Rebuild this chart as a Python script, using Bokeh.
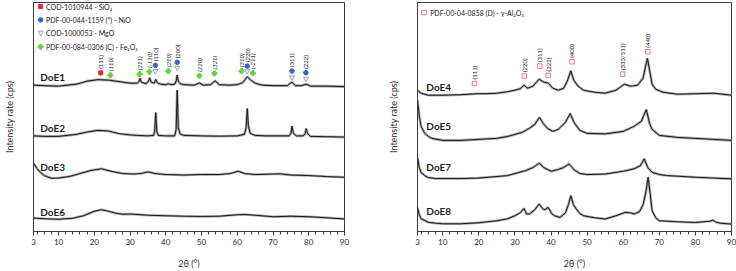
import math
from bokeh.plotting import figure
from bokeh.layouts import row
from bokeh.models import Range1d, FixedTicker
from bokeh.core.properties import value
from bokeh.embed import file_html
from bokeh.resources import INLINE

FONT = "Lato"

# ---------------- data (intensity above each pattern's own baseline, a.u.) ----------------
DOE1_TT = [3, 6, 10, 15, 18, 21, 24, 26, 28, 30, 32, 32.5, 32.8, 33.2, 34.5, 35.1, 35.5, 35.9, 36.8, 37.2, 37.6, 38.5,
           40, 40.8, 41.5, 42.5, 42.9, 43.2, 43.5, 44, 45, 48, 49.4, 50.5, 52.5, 53.8, 55, 58, 60, 61.5, 62.3, 62.8,
           63.8, 65, 67, 70, 74, 75.3, 76.3, 78, 79.3, 80.5, 85, 90]
DOE1_I = [2, 1.5, 1, 3, 6, 7.5, 7, 6, 5, 4, 4, 5.5, 8.7, 5, 3.5, 5.5, 9.3, 5, 4, 7.7, 4.5, 3,
          2.5, 3.5, 2.5, 3, 6, 12, 6, 3.5, 2.5, 2, 4.3, 2, 2.5, 6.3, 2.5, 2, 2.5, 4.5, 8, 10.3,
          7, 4, 2, 1.5, 1.5, 5, 1.5, 1.5, 3, 1, 1, 0.5]

DOE2_TT = [3, 6, 10, 15, 18, 21, 24, 27, 30, 32, 35, 36.6, 36.9, 37.2, 37.5, 37.9, 40, 42.5, 42.9, 43.2, 43.5, 44, 45,
           50, 55, 60, 62, 62.5, 62.8, 63.1, 63.6, 65, 68, 74.5, 75, 75.3, 75.7, 76.5, 78.5, 79, 79.3, 79.7, 80.5, 85, 90]
DOE2_I = [1.5, 1, 1, 3, 5.3, 7, 6.3, 3.7, 2.5, 2, 1.5, 2, 6, 24.7, 6, 2, 1.5, 1.5, 8, 47, 10, 3.5, 2,
          1.5, 1.2, 1.5, 3, 10, 28.7, 12, 4, 2, 1.5, 1.5, 4, 11.3, 4, 1.5, 1.5, 4, 8.7, 3.5, 1, 0.7, 0.3]

DOE3_TT = [3, 4, 5, 6, 8, 10, 13, 16, 19, 22, 25, 28, 31, 33, 35, 37, 40, 45, 50, 55, 58, 60.3, 62, 65, 70, 72, 75, 80, 85, 90]
DOE3_I = [15.3, 10, 6, 3, 0.3, 0.5, 2, 5, 8, 9.7, 7, 5, 4.5, 5, 6.7, 5, 4, 3.5, 4, 4, 5, 7.3, 5, 4, 4.5, 4.7, 3.5, 3, 2, 1.3]

DOE6_TT = [3, 6, 10, 14, 17, 20, 22, 24, 26, 28, 30, 35, 40, 45, 50, 55, 60, 62, 65, 70, 75, 80, 85, 90]
DOE6_I = [1.7, 1, 0.5, 1.5, 4, 8.5, 10, 8.5, 6.5, 5.5, 5.7, 4.5, 4, 3.5, 3.3, 3.5, 5, 5.3, 4.5, 3, 3.5, 3, 2, 0.7]

DOE4_TT = [3, 4, 6, 10, 15, 19.5, 22, 25, 28, 30, 31.5, 32.5, 33.5, 35, 36.7, 38, 39.2, 40.5, 42, 43.5, 44.5, 45.5, 46.3,
           47.5, 49, 52, 55, 58, 60.3, 62, 64, 65.5, 66.2, 66.7, 67.2, 68, 69, 71, 75, 80, 85, 90]
DOE4_I = [6, 3, 1, 1, 1.5, 2.5, 2.5, 3, 4.5, 6, 7.5, 11, 8, 10, 17, 14, 13, 8, 6, 8, 15, 25.3, 16,
          10, 6, 4, 3, 6, 12, 10, 11, 18, 30, 37.7, 28, 12, 7, 4, 2, 2.5, 3, 1]

DOE5_TT = [3, 3.5, 4, 5, 6, 7, 10, 15, 20, 25, 28, 30, 32, 34, 35.5, 36.8, 37.8, 39, 40.5, 42, 44, 45.3, 46.5, 48, 50,
           55, 60, 63, 65, 66.4, 67.3, 68, 70, 75, 80, 85, 90]
DOE5_I = [41, 25, 15, 8, 5, 3, 1, 1, 2, 3, 5, 7, 9, 13, 17, 24, 18, 13, 10, 12, 19, 27.7, 18, 11, 8,
          7.5, 10, 15, 20, 31.7, 18, 12, 6, 4, 3, 2, 1]

DOE7_TT = [3, 3.5, 4, 5, 6, 8, 15, 20, 25, 28, 30, 33, 35, 36.7, 38, 40, 42, 43.5, 45, 46.3, 48, 50, 55, 60, 63, 64.8,
           65.8, 66.8, 68, 70, 72, 80, 85, 90]
DOE7_I = [22, 12, 7, 4, 2, 1, 1, 1.5, 3, 4, 6, 9, 12, 16.3, 12, 8.3, 10, 12, 15.7, 10, 6, 5, 5.5, 8.3, 10.7, 14,
          20.7, 12, 7.3, 5, 4, 2.3, 1.5, 0.7]

DOE8_TT = [3, 3.5, 4, 6, 8, 10, 15, 20, 25, 28, 30, 31.5, 32.5, 33.2, 34, 35.5, 36.7, 37.7, 38.3, 39.2, 40.2, 41, 42.5,
           44, 44.8, 45.5, 46.2, 47, 48, 49, 52, 55, 58, 60.5, 62, 63, 64.5, 65.5, 66.3, 66.9, 67.5, 68, 69, 70, 75,
           80, 84, 84.8, 85.8, 87, 90]
DOE8_I = [17, 10, 6, 2.5, 1.5, 1, 1, 2, 4, 6, 9, 12, 16.3, 11, 10.7, 15, 20.7, 16, 15, 17.3, 11, 9, 7.3,
          12, 20, 29, 20, 15.7, 11, 9, 7, 5.7, 9, 12.3, 12, 10.7, 13, 20, 33, 47.3, 30, 14, 7, 4, 3,
          2.3, 3.5, 4.7, 2.5, 1.5, 0.7]

LEFT_NAMES = ["DoE1", "DoE2", "DoE3", "DoE6"]
RIGHT_NAMES = ["DoE4", "DoE5", "DoE7", "DoE8"]
SERIES = {
    "DoE1": (DOE1_TT, DOE1_I), "DoE2": (DOE2_TT, DOE2_I), "DoE3": (DOE3_TT, DOE3_I), "DoE6": (DOE6_TT, DOE6_I),
    "DoE4": (DOE4_TT, DOE4_I), "DoE5": (DOE5_TT, DOE5_I), "DoE7": (DOE7_TT, DOE7_I), "DoE8": (DOE8_TT, DOE8_I),
}
# vertical stacking offsets of each pattern
OFFSETS = {"DoE1": 143.7, "DoE2": 93.7, "DoE3": 52.7, "DoE6": 11.7,
           "DoE4": 134.7, "DoE5": 89.7, "DoE7": 51.7, "DoE8": 6.7}
# name label heights (a.u.)
NAME_Y = {"DoE1": 153.7, "DoE2": 102.7, "DoE3": 64.7, "DoE6": 19.7,
          "DoE4": 143.4, "DoE5": 104.7, "DoE7": 64.7, "DoE8": 20.7}

# reflection markers (2theta, hkl)
SIO2_TT = [21.8]
SIO2_HKL = ["(111)"]
FE2O3_TT = [24.5, 32.7, 35.4, 40.7, 49.4, 53.6, 61.2, 64.4]
FE2O3_HKL = ["(110)", "(211)", "(-110)", "(210)", "(220)", "(321)", "(310)", "(-211)"]
NIO_TT = [37.1, 43.2, 62.8, 75.3, 79.2]
NIO_HKL = ["(110)", "(200)", "(220)", "(311)", "(222)"]
AL2O3_TT = [18.8, 32.6, 36.9, 39.2, 45.8, 59.8, 66.8]
AL2O3_HKL = ["(111)", "(220)", "(311)", "(222)", "(400)", "(333/511)", "(440)"]

# marker heights (a.u.)
SIO2_MY = [158]
FE2O3_MY = [155.7, 156.7, 159, 159.7, 155, 157.4, 159.7, 157.7]
NIO_MY = [165.4, 168.4, 164.7, 159.7, 158]
MGO_MY = [159.7, 163, 159.7, 153.4, 152]
AL2O3_MY = [147.4, 154.7, 164.7, 155.4, 169, 156.7, 179]

X_TICKS = [3, 10, 20, 30, 40, 50, 60, 70, 80, 90]
X_MINOR = [t for t in range(4, 90, 2) if t % 10 != 0]

LEFT_LEGEND = ["COD-1010944  - SiO\u2082", "PDF-00-044-1159 (*) - NiO", "COD-1000053 - MgO",
               "PDF-00-084-0306 (C) - Fe\u2082O\u2083"]
RIGHT_LEGEND = ["PDF-00-04-0858 (D) - \u03b3-Al\u2082O\u2083"]

GREEN = "#63d43a"
BLUE = "#3a62c9"
TRI = "#8c9be0"
RED = "#e3263f"
PINK = "#ea7a98"
AX = "#3a3a3a"


def make_fig(width, left_border, right_border, standoff):
    p = figure(width=width, height=271, x_range=Range1d(3, 90), y_range=Range1d(0, 228),
               output_backend="svg", toolbar_location=None,
               min_border_left=left_border, min_border_right=right_border,
               min_border_top=2, min_border_bottom=40)
    p.grid.visible = False
    p.outline_line_color = AX
    p.outline_line_width = 1
    p.background_fill_color = "white"
    p.border_fill_color = "white"
    xa = p.xaxis[0]
    xa.ticker = FixedTicker(ticks=X_TICKS, minor_ticks=X_MINOR)
    xa.axis_line_color = AX
    xa.major_tick_line_color = AX
    xa.minor_tick_line_color = AX
    xa.major_tick_in = 0
    xa.major_tick_out = 4
    xa.minor_tick_in = 0
    xa.minor_tick_out = 3
    xa.major_label_standoff = 3
    xa.major_label_text_font = FONT
    xa.major_label_text_font_size = "8px"
    xa.major_label_text_color = "#2a2a2a"
    xa.axis_label = "2\u03b8 (\u00b0)"
    xa.axis_label_text_font = FONT
    xa.axis_label_text_font_size = "9px"
    xa.axis_label_text_font_style = "normal"
    xa.axis_label_text_color = "#2a2a2a"
    xa.axis_label_standoff = 10
    ya = p.yaxis[0]
    ya.ticker = FixedTicker(ticks=[])
    ya.axis_line_color = AX
    ya.major_tick_line_color = None
    ya.minor_tick_line_color = None
    ya.major_label_text_font_size = "0px"
    ya.major_label_standoff = 0
    ya.axis_label = "Intensity rate (cps)"
    ya.axis_label_text_font = FONT
    ya.axis_label_text_font_size = "9px"
    ya.axis_label_text_font_style = "normal"
    ya.axis_label_text_color = "#2a2a2a"
    ya.axis_label_standoff = standoff
    return p


def draw_patterns(p, names, name_x):
    for n in names:
        tt, inten = SERIES[n]
        y = [v + OFFSETS[n] for v in inten]
        p.line(tt, y, line_color="#9a9a9a", line_width=2.6, line_alpha=0.85)
        p.line(tt, y, line_color="#1a1a1a", line_width=1.0)
    p.text(x=[name_x] * len(names), y=[NAME_Y[n] for n in names], text=names,
           text_font=value(FONT), text_font_size="10px", text_font_style="bold",
           text_color="#222222", text_baseline="middle", text_align="left")


def hkl_labels(p, xs, marker_ys, labels, italic):
    p.text(x=xs, y=[m + 4.0 for m in marker_ys], text=labels, angle=math.pi / 2,
           text_font=value(FONT), text_font_size="6px",
           text_font_style="italic" if italic else "normal",
           text_color="#222222", text_baseline="middle", text_align="left")


# ---------------- left panel ----------------
p1 = make_fig(372, 30, 28, 19)
draw_patterns(p1, LEFT_NAMES, 4.9)
p1.scatter(SIO2_TT, SIO2_MY, marker="square", size=4, fill_color=RED, line_color=RED)
p1.scatter(FE2O3_TT, FE2O3_MY, marker="plus", size=5, fill_color=GREEN, line_color=GREEN)
p1.scatter(NIO_TT, NIO_MY, marker="circle", size=4.5, fill_color=BLUE, line_color=BLUE)
p1.scatter(NIO_TT, MGO_MY, marker="inverted_triangle", size=5, fill_color=None, line_color=TRI, line_width=1)
hkl_labels(p1, SIO2_TT, SIO2_MY, SIO2_HKL, False)
hkl_labels(p1, FE2O3_TT, FE2O3_MY, FE2O3_HKL, True)
hkl_labels(p1, NIO_TT, NIO_MY, NIO_HKL, False)
# legend
LEG_Y = [224, 210.7, 198, 184]
p1.scatter([5.0], [LEG_Y[0]], marker="square", size=4, fill_color=RED, line_color=RED)
p1.scatter([5.0], [LEG_Y[1]], marker="circle", size=4.5, fill_color=BLUE, line_color=BLUE)
p1.scatter([5.0], [LEG_Y[2]], marker="inverted_triangle", size=5, fill_color=None, line_color=TRI)
p1.scatter([5.0], [LEG_Y[3]], marker="plus", size=5, fill_color=GREEN, line_color=GREEN)
p1.text(x=[6.5] * 4, y=LEG_Y, text=LEFT_LEGEND, text_font=value(FONT), text_font_size="7px",
        text_color="#222222", text_baseline="middle", text_align="left")

# ---------------- right panel ----------------
p2 = make_fig(364, 45, 5, 19)
draw_patterns(p2, RIGHT_NAMES, 5.45)
p2.scatter(AL2O3_TT, AL2O3_MY, marker="square", size=4.5, fill_color=None, line_color=PINK, line_width=1)
hkl_labels(p2, AL2O3_TT, AL2O3_MY, AL2O3_HKL, False)
p2.scatter([4.8], [218], marker="square", size=4.5, fill_color=None, line_color=PINK, line_width=1)
p2.text(x=[6.5], y=[218], text=RIGHT_LEGEND, text_font=value(FONT), text_font_size="7px",
        text_color="#222222", text_baseline="middle", text_align="left")

layout = row(p1, p2)
open("out.html", "w").write(file_html(layout, INLINE))
